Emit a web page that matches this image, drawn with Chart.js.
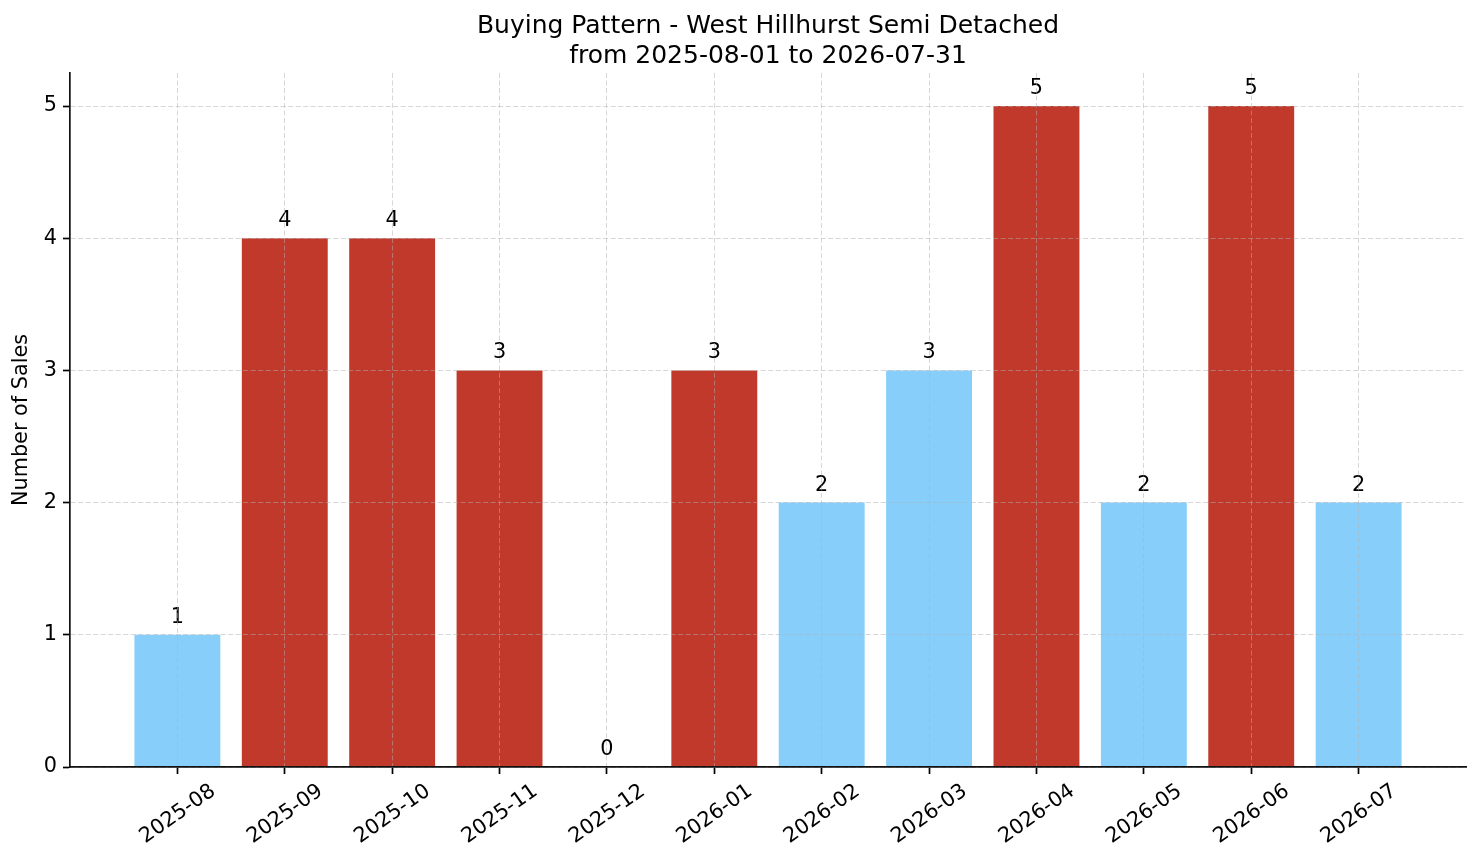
<!DOCTYPE html>
<html>
<head>
<meta charset="utf-8">
<title>Buying Pattern - West Hillhurst Semi Detached</title>
<script src="https://cdn.jsdelivr.net/npm/chart.js@4.4.1/dist/chart.umd.min.js"></script>
<style>
  html, body { margin: 0; padding: 0; background: #fff; }
  #chart { display: block; }
</style>
</head>
<body>
<canvas id="chart" width="1481" height="863"></canvas>
<script>
// Data
const months = ['2025-08', '2025-09', '2025-10', '2025-11', '2025-12', '2026-01',
                '2026-02', '2026-03', '2026-04', '2026-05', '2026-06', '2026-07'];
const sales = [1, 4, 4, 3, 0, 3, 2, 3, 5, 2, 5, 2];
const barColors = ['#87cefa', '#c0392b', '#c0392b', '#c0392b', '#c0392b', '#c0392b',
                   '#87cefa', '#87cefa', '#c0392b', '#87cefa', '#c0392b', '#87cefa'];
const yTicks = [0, 1, 2, 3, 4, 5];
const titleLines = ['Buying Pattern - West Hillhurst Semi Detached', 'from 2025-08-01 to 2026-07-31'];
const yTitle = 'Number of Sales';

const FONT = '"DejaVu Sans", Verdana, sans-serif';
Chart.defaults.color = '#000';
Chart.defaults.font.family = FONT;

// Numbers above each bar
const valueLabels = {
  id: 'valueLabels',
  afterDatasetsDraw(chart) {
    const ctx = chart.ctx;
    const meta = chart.getDatasetMeta(0);
    ctx.save();
    ctx.font = '20.8px ' + FONT;
    ctx.fillStyle = '#000';
    ctx.textAlign = 'center';
    ctx.textBaseline = 'alphabetic';
    meta.data.forEach((bar, i) => {
      ctx.fillText(String(sales[i]), bar.x, bar.y - 12);
    });
    ctx.restore();
  }
};

const gridStyle = {
  offset: false,
  color: 'rgba(176, 176, 176, 0.5)',
  lineWidth: 1,
  z: 1,
  tickLength: 7,
  tickColor: '#000',
  tickWidth: 1.7,
  tickBorderDash: []
};
const borderStyle = { color: '#111', width: 1.7, dash: [5, 2.5], z: 2 };

new Chart(document.getElementById('chart'), {
  type: 'bar',
  data: {
    datasets: [{
      data: sales.map((v, i) => ({ x: i, y: v })),
      backgroundColor: barColors,
      borderWidth: 0,
      barPercentage: 0.8,
      categoryPercentage: 1
    }]
  },
  options: {
    responsive: false,
    animation: false,
    devicePixelRatio: 1,
    layout: { padding: { left: 0, right: 15, top: 0, bottom: 0 } },
    plugins: {
      legend: { display: false },
      tooltip: { enabled: false },
      title: {
        display: true,
        fullSize: false,
        text: titleLines,
        color: '#000',
        font: { size: 25, weight: 'normal', family: FONT, lineHeight: 1.2 },
        padding: { top: 11, bottom: 2 }
      }
    },
    scales: {
      x: {
        type: 'linear',
        offset: false,
        min: -1,
        max: 12,
        afterBuildTicks: (scale) => { scale.ticks = months.map((m, i) => ({ value: i })); },
        afterFit: (scale) => { scale.height = 96; },
        grid: gridStyle,
        border: borderStyle,
        ticks: {
          autoSkip: false,
          minRotation: 35,
          maxRotation: 35,
          padding: 5,
          labelOffset: 36,
          font: { size: 20.8 },
          callback: (value) => months[value]
        }
      },
      y: {
        min: 0,
        max: 5.25,
        afterBuildTicks: (scale) => { scale.ticks = yTicks.map(v => ({ value: v })); },
        afterFit: (scale) => { scale.width = 70; },
        grid: gridStyle,
        border: borderStyle,
        ticks: {
          padding: 6,
          font: { size: 20.8 },
          callback: (value) => String(value)
        },
        title: {
          display: true,
          text: yTitle,
          color: '#000',
          font: { size: 20.8, family: FONT },
          padding: { top: 9, bottom: 0 }
        }
      }
    }
  },
  plugins: [valueLabels]
});
</script>
</body>
</html>
